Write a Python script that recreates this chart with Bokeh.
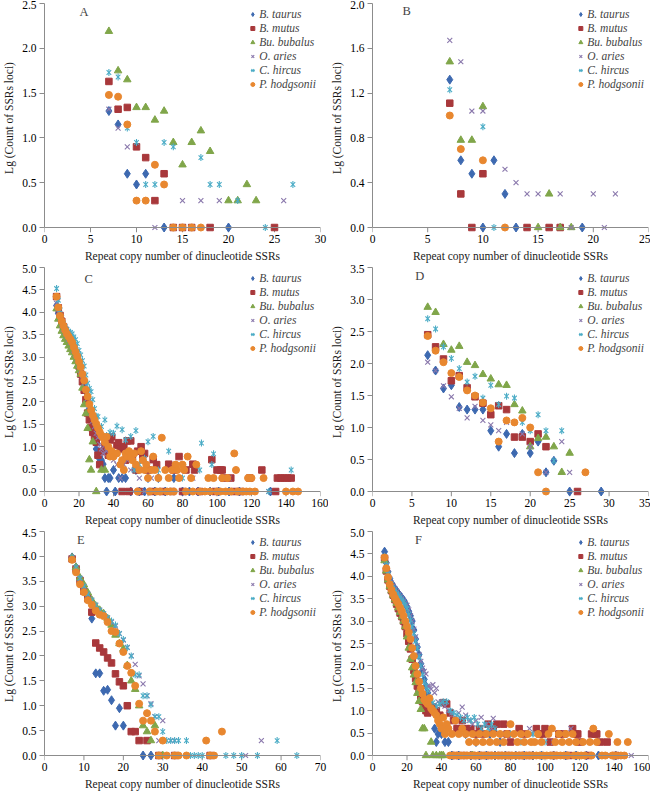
import math
from bokeh.plotting import figure
from bokeh.models import Range1d, FixedTicker, NumeralTickFormatter, Label, Span
from bokeh.layouts import column, row
from bokeh.embed import file_html
from bokeh.resources import INLINE

# ---------------- data ----------------
SERIES = ["B. taurus", "B. mutus", "Bu. bubalus", "O. aries", "C. hircus", "P. hodgsonii"]
COLORS = ["#3D69B0", "#A8383B", "#80A64A", "#8A78AC", "#4BACC6", "#E8872F"]

X_AXIS_TITLE = "Repeat copy number of dinucleotide SSRs"
Y_AXIS_TITLE = "Lg (Count of SSRs loci)"

# Panel A
A_taurus = [(7,1.30),(8,1.15),(9,0.60),(10,0.48),(11,0.60),(13,0.0),(20,0.0)]
A_mutus = [(7,1.63),(8,1.32),(9,1.34),(10,0.90),(11,0.78),(12,0.30),(13,0.60),(14,0.0),(15,0.0),(16,0.0),(18,0.0),(25,0.0)]
A_bubalus = [(7,2.19),(8,1.75),(9,1.65),(10,1.34),(11,1.34),(12,1.20),(13,1.30),(14,0.95),(15,0.70),(16,0.95),(17,1.08),(18,0.85),(20,0.30),(21,0.30),(22,0.48),(23,0.30)]
A_aries = [(7,1.32),(8,1.11),(9,0.90),(12,0.0),(15,0.30),(17,0.30),(19,0.30),(26,0.30)]
A_hircus = [(7,1.73),(8,1.68),(9,1.11),(10,0.95),(11,0.48),(12,0.48),(13,0.95),(14,0.90),(17,0.78),(18,0.48),(19,0.48),(21,0.30),(24,0.0),(27,0.48)]
A_hodgsonii = [(7,1.48),(8,1.46),(9,1.15),(10,0.30),(11,0.30),(12,0.70),(13,0.48),(14,0.0),(15,0.0),(16,0.0),(17,0.0)]
A_xticks = [0, 5, 10, 15, 20, 25, 30]
A_yticks = [0.0, 0.5, 1.0, 1.5, 2.0, 2.5]

# Panel B
B_taurus = [(7,1.32),(8,0.60),(9,0.48),(10,0.0),(11,0.60),(12,0.30),(13,0.0),(19,0.0)]
B_mutus = [(7,1.11),(8,0.30),(9,0.0),(10,0.48),(14,0.0),(16,0.0),(17,0.0)]
B_bubalus = [(7,1.48),(8,0.78),(9,0.78),(10,1.08),(15,0.0),(16,0.30),(17,0.0),(18,0.0)]
B_aries = [(7,1.67),(8,1.48),(9,1.04),(10,1.04),(12,0.52),(13,0.40),(14,0.30),(15,0.30),(17,0.30),(18,0.0),(20,0.30),(21,0.0),(22,0.30)]
B_hircus = [(7,1.23),(10,0.90),(11,0.0)]
B_hodgsonii = [(7,1.00),(8,0.70),(10,0.60),(12,0.0)]
B_xticks = [0, 5, 10, 15, 20, 25]
B_yticks = [0.0, 0.4, 0.8, 1.2, 1.6, 2.0]

# Panel C
C_taurus = [(7,4.15),(8,3.98),(9,3.85),(10,3.72),(11,3.62),(12,3.53),(13,3.45),(14,3.38),(15,3.30),(16,3.22),(17,3.12),(18,3.02),(19,2.92),(20,2.80),(21,2.68),(22,2.55),(23,2.40),(24,2.22),(25,2.05),(26,1.85),(27,1.68),(28,1.48),(29,1.30),(30,0.95),(31,0.78),(32,0.78),(33,0.70),(34,0.61),(35,0.30),(36,0.0),(37,0.30),(38,0.30),(40,0.48),(41,0.0),(43,0.30),(45,0.30),(47,0.30),(50,0.0),(53,0.48),(55,0.0),(58,0.0),(60,0.30),(64,0.0),(66,0.30),(70,0.0),(75,0.30),(80,0.0),(84,0.0),(89,0.0),(96,0.0),(101,0.0),(107,0.0),(113,0.0),(131,0.0)]
C_mutus = [(7,4.35),(8,4.10),(9,3.93),(10,3.80),(11,3.68),(12,3.60),(13,3.52),(14,3.45),(15,3.38),(16,3.30),(17,3.20),(18,3.08),(19,2.95),(20,2.80),(21,2.62),(22,2.45),(23,2.26),(24,2.05),(25,1.75),(26,1.60),(27,1.43),(28,1.32),(29,1.20),(30,1.10),(31,0.81),(32,0.60),(33,0.89),(35,1.00),(36,0.90),(37,0.81),(38,1.15),(39,1.22),(40,0.84),(42,1.03),(43,1.09),(44,0.95),(45,0.0),(46,1.00),(47,0.70),(48,1.13),(49,0.0),(50,1.13),(51,0.78),(53,0.48),(54,0.90),(55,0.0),(56,1.00),(57,0.81),(58,0.85),(60,0.48),(62,0.0),(63,0.71),(65,0.60),(68,0.0),(72,0.61),(74,0.0),(75,0.48),(78,0.78),(80,0.0),(82,0.48),(86,0.61),(87,0.48),(90,0.0),(97,0.71),(99,0.0),(100,0.48),(102,0.48),(103,0.48),(104,0.30),(108,0.30),(110,0.0),(114,0.0),(119,0.30),(126,0.48),(134,0.0),(135,0.30),(137,0.30),(139,0.30),(141,0.30),(143,0.30)]
C_bubalus = [(7,4.08),(8,3.85),(9,3.70),(10,3.58),(11,3.48),(12,3.40),(13,3.33),(14,3.25),(15,3.17),(16,3.10),(17,3.00),(18,2.90),(19,2.80),(20,2.70),(21,2.62),(22,2.31),(23,1.94),(24,1.74),(25,1.41),(26,0.71),(27,0.48),(28,1.11),(30,0.0),(33,0.48),(35,0.48)]
C_aries = [(7,4.20),(8,4.00),(9,3.85),(10,3.72),(11,3.62),(12,3.55),(13,3.48),(14,3.40),(15,3.33),(16,3.25),(17,3.15),(18,3.05),(19,2.95),(20,2.82),(21,2.70),(22,2.58),(23,2.42),(24,2.25),(25,2.08),(26,1.92),(27,1.75),(28,1.58),(29,1.45),(30,1.30),(31,1.20),(32,1.05),(33,0.95),(34,0.85),(36,0.90),(38,0.78),(40,0.70),(42,0.60),(44,0.30),(46,0.60),(48,0.70),(50,0.48),(52,0.48),(55,0.30),(58,0.0),(62,0.30),(67,0.0),(72,0.0),(78,0.30),(86,0.30),(96,0.30),(100,0.0),(107,0.30),(115,0.0),(130,0.0)]
C_hircus = [(7,4.53),(8,4.27),(9,4.05),(10,3.88),(11,3.75),(12,3.68),(13,3.62),(14,3.58),(15,3.55),(16,3.52),(17,3.45),(18,3.39),(19,3.30),(20,3.15),(21,3.05),(22,2.92),(23,2.80),(24,2.60),(25,2.42),(26,2.30),(27,2.23),(28,2.05),(29,1.85),(30,1.68),(31,1.67),(33,1.45),(35,1.60),(36,1.25),(38,1.32),(40,1.30),(42,1.46),(45,1.38),(47,1.15),(50,1.23),(52,0.48),(53,1.36),(55,0.60),(58,0.74),(60,1.11),(63,1.23),(66,0.48),(72,0.90),(74,0.0),(80,0.30),(90,0.48),(91,1.08),(97,0.60),(98,0.84),(130,0.0),(143,0.48)]
C_hodgsonii = [(7,4.35),(8,4.11),(9,3.92),(10,3.80),(11,3.70),(12,3.60),(13,3.52),(14,3.46),(15,3.40),(16,3.33),(17,3.22),(18,3.12),(19,3.02),(20,2.90),(21,2.78),(22,2.62),(23,2.48),(24,2.27),(25,2.12),(26,1.95),(27,1.82),(28,1.70),(29,1.60),(30,1.51),(31,1.42),(32,1.33),(33,1.25),(34,1.20),(35,1.10),(36,1.22),(37,1.00),(38,0.78),(39,0.90),(40,0.78),(42,0.85),(44,0.60),(45,0.70),(46,0.48),(47,0.85),(48,0.78),(49,0.90),(50,0.78),(51,0.70),(52,0.85),(53,0.60),(54,0.0),(55,0.48),(56,0.90),(57,0.70),(58,0.48),(59,0.60),(60,0.30),(61,0.0),(62,0.48),(63,0.78),(64,0.48),(65,0.0),(66,0.30),(67,0.0),(68,1.20),(70,0.48),(71,0.0),(72,0.30),(73,0.0),(74,0.48),(75,0.0),(76,0.60),(77,0.48),(78,0.30),(80,0.60),(81,0.48),(82,0.0),(83,0.78),(85,0.30),(86,0.0),(88,0.60),(90,0.0),(93,0.0),(95,0.30),(96,0.0),(98,0.30),(100,0.0),(102,0.0),(103,0.30),(105,0.0),(106,0.30),(108,0.0),(110,0.85),(111,0.48),(112,0.0),(115,0.0),(117,0.0),(118,0.30),(119,0.0),(120,0.30),(122,0.0),(127,0.30),(140,0.0),(144,0.0),(147,0.0)]
C_xticks = [0, 20, 40, 60, 80, 100, 120, 140, 160]
C_yticks = [0.0, 0.5, 1.0, 1.5, 2.0, 2.5, 3.0, 3.5, 4.0, 4.5, 5.0]

# Panel D
D_taurus = [(7,2.13),(8,1.89),(9,1.61),(10,1.66),(11,1.32),(12,1.28),(13,1.28),(14,1.28),(15,0.95),(16,0.70),(17,0.90),(18,0.60),(19,0.90),(20,0.60),(21,0.78),(22,0.30),(23,0.48),(25,0.0),(29,0.0)]
D_mutus = [(7,2.45),(8,2.26),(9,2.07),(10,1.73),(11,1.81),(12,1.62),(13,1.48),(14,1.38),(15,1.20),(16,1.34),(17,1.28),(18,0.85),(19,0.85),(20,0.78),(21,0.90),(22,0.70),(26,0.0)]
D_bubalus = [(7,2.88),(8,2.80),(9,2.30),(10,2.21),(11,2.27),(12,2.02),(13,1.97),(14,1.83),(15,1.76),(16,1.67),(17,1.66),(18,1.36),(19,1.26),(20,0.70),(21,0.83),(22,0.85),(23,0.70),(24,0.30),(25,0.60)]
D_aries = [(7,2.02),(8,1.89),(9,1.65),(10,1.48),(11,1.30),(12,1.15),(13,1.33),(14,1.11),(15,1.04),(16,0.95),(17,1.08),(19,0.90),(20,0.70),(22,0.30),(24,0.78),(25,0.30)]
D_hircus = [(7,2.70),(8,2.54),(9,2.26),(10,2.08),(11,1.92),(12,1.71),(13,1.80),(14,1.46),(15,1.66),(16,1.36),(17,1.49),(18,1.46),(19,1.08),(20,0.95),(21,1.20),(22,0.95),(23,0.48),(24,0.95)]
D_hodgsonii = [(7,2.43),(8,2.20),(9,2.02),(10,1.85),(11,1.79),(12,1.58),(13,1.50),(14,1.39),(15,1.30),(16,0.78),(17,1.11),(18,1.08),(19,1.15),(20,1.00),(21,0.30),(22,0.0),(27,0.30)]
D_xticks = [0, 5, 10, 15, 20, 25, 30, 35]
D_yticks = [0.0, 0.5, 1.0, 1.5, 2.0, 2.5, 3.0, 3.5]

# Panel E
E_taurus = [(7,3.98),(8,3.78),(9,3.55),(10,3.35),(11,3.20),(12,2.75),(13,1.65),(14,1.65),(15,1.30),(16,1.32),(17,1.11),(18,0.60),(19,0.95),(20,0.60),(25,0.0),(27,0.0)]
E_mutus = [(7,3.95),(8,3.75),(9,3.52),(10,3.30),(11,3.15),(12,2.88),(13,2.26),(14,2.16),(15,2.08),(16,1.96),(17,1.86),(18,1.64),(19,1.48),(20,1.40),(21,1.00),(22,0.48),(23,0.48),(24,0.30),(26,0.30),(29,0.0),(33,0.0),(42,0.0)]
E_bubalus = [(7,3.97),(8,3.78),(9,3.57),(10,3.43),(11,3.27),(12,3.12),(13,3.00),(14,2.92),(15,2.85),(16,2.75),(17,2.62),(18,2.42),(19,2.25),(20,2.14),(21,1.81),(22,1.50),(23,1.33),(24,1.00),(25,0.60),(26,0.48),(27,0.30),(28,0.60),(30,0.0)]
E_aries = [(7,3.96),(8,3.77),(9,3.56),(10,3.40),(11,3.24),(12,3.12),(13,3.02),(14,2.92),(15,2.84),(16,2.76),(17,2.68),(18,2.60),(19,2.45),(20,2.32),(21,2.17),(22,2.00),(23,1.83),(24,1.60),(25,1.44),(26,1.20),(27,1.04),(28,0.78),(29,0.30),(30,0.70),(32,0.30),(33,0.30),(51,0.0),(55,0.30)]
E_hircus = [(7,3.98),(8,3.78),(9,3.56),(10,3.40),(11,3.24),(12,3.12),(13,3.02),(14,2.92),(15,2.85),(16,2.77),(17,2.70),(18,2.62),(19,2.45),(20,2.33),(21,2.17),(22,2.00),(23,1.62),(24,1.62),(25,1.20),(26,1.20),(27,1.02),(28,0.78),(29,0.78),(30,0.48),(31,0.30),(32,0.30),(33,0.30),(34,0.30),(36,0.30),(37,0.0),(38,0.0),(39,0.0),(40,0.0),(46,0.0),(48,0.0),(50,0.0),(54,0.0),(59,0.30),(64,0.0)]
E_hodgsonii = [(7,3.93),(8,3.68),(9,3.44),(10,3.28),(11,3.12),(12,3.03),(13,2.91),(14,2.83),(15,2.80),(16,2.68),(17,2.50),(18,2.48),(19,2.25),(20,2.08),(21,1.80),(22,1.66),(23,1.40),(24,1.04),(25,0.70),(26,0.85),(27,0.70),(28,0.48),(29,0.0),(30,0.30),(31,0.0),(33,0.0),(34,0.0),(36,0.0),(41,0.30),(42,0.0),(43,0.0),(45,0.48)]
E_xticks = [0, 10, 20, 30, 40, 50, 60, 70]
E_yticks = [0.0, 0.5, 1.0, 1.5, 2.0, 2.5, 3.0, 3.5, 4.0, 4.5]

# Panel F
F_taurus = [(7,4.55),(8,4.30),(9,4.10),(10,3.95),(11,3.85),(12,3.78),(13,3.72),(14,3.67),(15,3.62),(16,3.57),(17,3.52),(18,3.47),(19,3.40),(20,3.32),(21,3.22),(22,3.12),(23,3.00),(24,2.80),(25,2.60),(26,2.42),(27,2.25),(28,2.05),(29,1.90),(30,1.70),(31,1.55),(32,1.40),(33,1.15),(34,1.10),(35,1.00),(36,0.60),(37,0.30),(38,0.48),(40,0.48),(42,0.30),(44,0.30),(46,0.0),(50,0.0),(54,0.48),(57,0.0),(60,0.30),(62,0.0),(66,0.0),(68,0.48),(71,0.0),(74,0.30),(77,0.0),(83,0.0),(88,0.0),(93,0.0),(98,0.0),(105,0.0),(112,0.0),(118,0.0),(124,0.0),(131,0.0),(141,0.0)]
F_mutus = [(7,4.40),(8,4.12),(9,3.92),(10,3.78),(11,3.68),(12,3.58),(13,3.48),(14,3.38),(15,3.28),(16,3.18),(17,3.10),(18,3.00),(19,2.88),(20,2.72),(21,2.55),(22,2.38),(23,2.15),(24,1.90),(25,1.72),(26,1.55),(27,1.48),(28,1.30),(29,1.20),(30,1.10),(31,1.00),(32,0.95),(33,1.00),(35,1.08),(37,1.00),(39,0.90),(41,1.18),(43,1.15),(45,0.95),(47,0.78),(48,0.0),(49,0.60),(50,0.60),(52,0.78),(53,0.0),(54,0.60),(57,0.60),(58,0.0),(60,0.48),(62,0.60),(63,0.0),(64,0.48),(67,0.70),(68,0.0),(70,0.60),(72,0.70),(74,0.0),(76,0.70),(78,0.48),(79,0.0),(80,0.30),(85,0.60),(86,0.0),(88,0.48),(91,0.0),(95,0.60),(97,0.48),(99,0.48),(100,0.60),(103,0.30),(105,0.0),(108,0.48),(111,0.48),(114,0.0),(116,0.60),(118,0.48),(119,0.48),(120,0.30),(125,0.0),(127,0.48),(129,0.48),(130,0.48),(132,0.30),(136,0.30),(141,0.0)]
F_bubalus = [(7,4.35),(8,4.12),(9,3.92),(10,3.78),(11,3.68),(12,3.58),(13,3.48),(14,3.40),(15,3.30),(16,3.20),(17,3.10),(18,3.00),(19,2.88),(20,2.65),(21,2.40),(22,2.15),(23,1.96),(24,1.80),(25,1.63),(26,1.39),(27,1.21),(28,1.03),(29,0.60),(30,0.60),(31,0.0),(34,0.30),(35,0.0),(37,0.0),(39,0.0),(40,0.0),(41,0.0),(58,0.0)]
F_aries = [(7,4.40),(8,4.25),(9,4.08),(10,3.95),(11,3.85),(12,3.78),(13,3.72),(14,3.66),(15,3.60),(16,3.55),(17,3.50),(18,3.45),(19,3.40),(20,3.35),(21,3.25),(22,3.12),(23,3.00),(24,2.82),(25,2.65),(26,2.45),(27,2.25),(28,2.10),(29,1.95),(30,1.88),(31,1.82),(32,1.55),(33,1.55),(34,1.48),(35,1.58),(36,1.40),(37,1.50),(38,1.20),(39,1.15),(40,1.20),(42,1.10),(44,1.00),(46,0.95),(48,0.85),(50,0.95),(52,1.08),(54,0.90),(56,0.78),(58,0.70),(60,0.78),(63,0.85),(66,0.70),(69,0.60),(70,0.83),(72,0.48),(75,0.0),(78,0.48),(82,0.0),(85,0.30),(88,0.0),(91,0.60),(92,0.48),(94,0.0),(98,0.30),(101,0.0),(105,0.30),(109,0.0),(113,0.0),(115,0.60),(120,0.30),(125,0.0),(138,0.0),(144,0.0),(150,0.0)]
F_hircus = [(7,4.45),(8,4.25),(9,4.05),(10,3.92),(11,3.82),(12,3.74),(13,3.68),(14,3.62),(15,3.57),(16,3.52),(17,3.47),(18,3.42),(19,3.36),(20,3.28),(21,3.15),(22,3.02),(23,2.88),(24,2.72),(25,2.55),(26,2.40),(27,2.20),(28,2.00),(29,1.80),(30,1.65),(31,1.55),(32,1.45),(33,1.30),(34,1.22),(35,1.18),(37,1.10),(39,1.15),(41,1.20),(43,1.20),(45,1.00),(47,0.95),(49,0.90),(51,0.85),(53,0.78),(55,0.85),(57,0.78),(59,0.85),(61,0.70),(63,0.60),(65,0.70),(67,0.60),(69,0.70),(71,0.60),(74,0.48),(80,0.48),(86,0.30),(93,0.48),(100,0.30),(120,0.0),(127,0.0)]
F_hodgsonii = [(7,4.42),(8,4.18),(9,3.98),(10,3.82),(11,3.70),(12,3.60),(13,3.52),(14,3.45),(15,3.38),(16,3.30),(17,3.22),(18,3.12),(19,3.00),(20,2.88),(21,2.75),(22,2.60),(23,2.40),(24,2.22),(25,2.00),(26,1.82),(27,1.65),(28,1.50),(29,1.38),(30,1.25),(31,1.20),(32,1.15),(33,1.28),(34,1.05),(35,1.00),(36,0.95),(37,0.90),(38,0.78),(39,0.70),(40,0.60),(41,0.85),(42,0.48),(43,0.70),(44,0.60),(45,0.0),(46,0.48),(47,0.0),(48,0.78),(49,0.0),(50,0.48),(51,0.0),(52,0.60),(53,0.0),(54,0.48),(55,0.0),(56,0.30),(57,0.0),(58,0.48),(59,0.0),(60,0.30),(61,0.0),(62,0.48),(63,0.0),(64,0.30),(65,0.0),(66,0.48),(67,0.0),(68,0.30),(69,0.0),(70,0.48),(71,0.0),(72,0.30),(73,0.0),(74,0.48),(75,0.0),(76,0.30),(77,0.0),(78,0.48),(79,0.0),(80,0.70),(81,0.0),(82,0.48),(83,0.0),(84,0.30),(85,0.0),(86,0.48),(87,0.0),(88,0.30),(89,0.0),(90,0.48),(91,0.0),(92,0.30),(93,0.0),(94,0.30),(95,0.0),(96,0.48),(97,0.0),(98,0.30),(99,0.0),(101,0.0),(102,0.48),(103,0.0),(104,0.60),(105,0.0),(106,0.30),(107,0.0),(108,0.48),(109,0.0),(110,0.30),(111,0.0),(112,0.48),(113,0.0),(114,0.30),(116,0.48),(117,0.0),(118,0.30),(119,0.0),(121,0.0),(122,0.30),(123,0.0),(126,0.30),(127,0.0),(128,0.60),(130,0.30),(133,0.0),(135,0.0),(137,0.48),(139,0.0),(141,0.0),(142,0.30),(144,0.0),(146,0.0),(148,0.30)]
F_xticks = [0, 20, 40, 60, 80, 100, 120, 140, 160]
F_yticks = [0.0, 0.5, 1.0, 1.5, 2.0, 2.5, 3.0, 3.5, 4.0, 4.5, 5.0]

FONT = "'Liberation Serif', 'Times New Roman', serif"
AXIS_COLOR = "#8C8C8C"
FRAME_H = 229
TICK_PX = 5.0


def add_series(p, pts, idx):
    xs = [q[0] for q in pts]
    ys = [q[1] for q in pts]
    c = COLORS[idx]
    lab = SERIES[idx]
    if idx == 0:
        p.scatter(xs, ys, marker="diamond", size=9, fill_color=c, line_color=c, legend_label=lab)
    elif idx == 1:
        p.scatter(xs, ys, marker="square", size=6.5, fill_color=c, line_color=c, legend_label=lab)
    elif idx == 2:
        p.scatter(xs, ys, marker="triangle", size=7.5, fill_color=c, line_color=c, legend_label=lab)
    elif idx == 3:
        p.scatter(xs, ys, marker="x", size=7, line_color=c, line_width=1.1, legend_label=lab)
    elif idx == 4:
        p.scatter(xs, ys, marker="x", size=6.5, line_color=c, line_width=1.1, legend_label=lab)
        p.scatter(xs, ys, marker="dash", size=7, angle=math.pi / 2, line_color=c, line_width=1.1, legend_label=lab)
    else:
        p.scatter(xs, ys, marker="circle", size=7, fill_color=c, line_color=c, legend_label=lab)


def make_panel(letter, series, xticks, yticks, letter_xy, left, right):
    ymax = yticks[-1]
    pad = ymax * TICK_PX / (FRAME_H - TICK_PX)  # room below zero for tick marks and markers sitting on zero
    p = figure(frame_width=276, frame_height=FRAME_H, output_backend="svg", toolbar_location=None,
               x_range=Range1d(xticks[0], xticks[-1]), y_range=Range1d(-pad, ymax),
               min_border_left=left, min_border_right=right, min_border_top=3, min_border_bottom=29,
               x_axis_label=X_AXIS_TITLE, y_axis_label=Y_AXIS_TITLE)
    p.outline_line_color = None
    p.grid.visible = False
    p.yaxis.bounds = (0, ymax)
    for ax in (p.xaxis[0], p.yaxis[0]):
        ax.axis_line_color = AXIS_COLOR
        ax.major_tick_line_color = AXIS_COLOR
        ax.major_tick_out = 5
        ax.major_tick_in = 0
        ax.minor_tick_line_color = None
        ax.major_label_text_font = FONT
        ax.major_label_text_font_size = "11.5px"
        ax.major_label_text_color = "#000000"
        ax.axis_label_text_font = FONT
        ax.axis_label_text_font_size = "11.5px"
        ax.axis_label_text_font_style = "normal"
        ax.axis_label_text_color = "#1a1a1a"
        ax.major_label_standoff = 3
        ax.axis_label_standoff = 4
    # the bottom axis sits at the frame edge (below zero); its line and ticks are drawn at zero instead
    p.xaxis.axis_line_color = None
    p.xaxis.major_tick_line_color = None
    p.xaxis.major_tick_out = 0
    p.xaxis.major_label_standoff = 2
    p.xaxis.ticker = FixedTicker(ticks=xticks)
    p.yaxis.ticker = FixedTicker(ticks=yticks)
    p.yaxis.formatter = NumeralTickFormatter(format="0.0")
    p.segment(x0=xticks, y0=[0] * len(xticks), x1=xticks, y1=[-pad] * len(xticks),
              line_color=AXIS_COLOR, line_width=1)
    p.add_layout(Span(location=0, dimension="width", line_color=AXIS_COLOR, line_width=1))
    for i, pts in enumerate(series):
        add_series(p, pts, i)
    p.add_layout(Label(x=letter_xy[0], y=letter_xy[1], text=letter, text_font=FONT,
                       text_font_size="12.5px", text_align="center", text_baseline="middle"))
    lg = p.legend[0]
    lg.location = "top_right"
    lg.background_fill_alpha = 0
    lg.border_line_alpha = 0
    lg.margin = 2
    lg.padding = 2
    lg.spacing = 0
    lg.label_height = 14
    lg.glyph_height = 14
    lg.glyph_width = 10
    lg.label_standoff = 2
    lg.label_text_font = FONT
    lg.label_text_font_size = "11.5px"
    lg.label_text_font_style = "italic"
    lg.label_text_line_height = 1.0
    return p


pA = make_panel("A", [A_taurus, A_mutus, A_bubalus, A_aries, A_hircus, A_hodgsonii], A_xticks, A_yticks, (4.3, 2.41), 36, 8)
pB = make_panel("B", [B_taurus, B_mutus, B_bubalus, B_aries, B_hircus, B_hodgsonii], B_xticks, B_yticks, (3.1, 1.93), 40, 2)
pC = make_panel("C", [C_taurus, C_mutus, C_bubalus, C_aries, C_hircus, C_hodgsonii], C_xticks, C_yticks, (25.6, 4.74), 36, 8)
pD = make_panel("D", [D_taurus, D_mutus, D_bubalus, D_aries, D_hircus, D_hodgsonii], D_xticks, D_yticks, (6.0, 3.36), 40, 2)
pE = make_panel("E", [E_taurus, E_mutus, E_bubalus, E_aries, E_hircus, E_hodgsonii], E_xticks, E_yticks, (9.2, 4.32), 36, 8)
pF = make_panel("F", [F_taurus, F_mutus, F_bubalus, F_aries, F_hircus, F_hodgsonii], F_xticks, F_yticks, (26.6, 4.80), 40, 2)

layout = column(row(pA, pB), row(pC, pD), row(pE, pF))
open("out.html", "w").write(file_html(layout, INLINE))
